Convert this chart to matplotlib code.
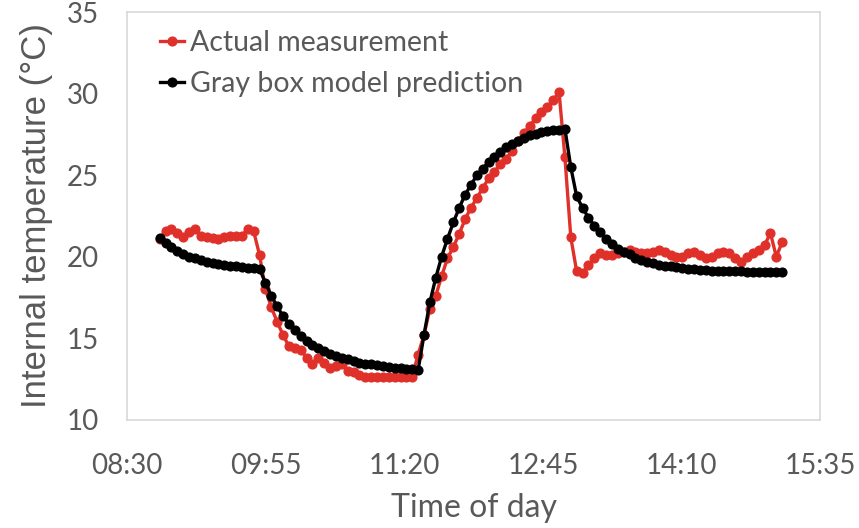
import matplotlib
matplotlib.use("Agg")
import matplotlib.pyplot as plt
import numpy as np
from matplotlib.ticker import FuncFormatter, MultipleLocator

# sampling: first reading at 08:50, one reading every 3.6 min
start_min = 8 * 60 + 50
step_min = 3.6

actual = [
    21.1, 21.6, 21.7, 21.45, 21.2, 21.5, 21.7, 21.3, 21.2, 21.15, 21.1, 21.2,
    21.25, 21.3, 21.3, 21.7, 21.55,
    20.1, 18.0, 16.9, 16.0, 15.2, 14.5, 14.4, 14.3, 13.8, 13.4, 13.8, 13.5,
    13.2, 13.3, 13.4, 13.0, 12.9, 12.75, 12.65, 12.65, 12.65, 12.65, 12.65,
    12.65, 12.65, 12.65, 12.65,
    14.0, 15.2, 16.8, 17.6, 18.8, 19.9, 20.6, 21.4, 22.3, 23.0, 23.6, 24.2,
    24.8, 25.2, 25.7, 26.0, 26.5, 27.1, 27.6, 28.0, 28.5, 28.9, 29.2, 29.6, 30.1,
    26.1, 21.2, 19.1, 19.0, 19.5, 19.9, 20.2, 20.1, 20.1, 20.2, 20.3, 20.4,
    20.3, 20.2, 20.2, 20.3, 20.4, 20.3, 20.1, 20.0, 20.0, 20.2, 20.3, 20.1,
    19.9, 20.0, 20.2, 20.3, 20.2, 19.9, 19.7, 20.0, 20.2, 20.4, 20.7, 21.45,
    20.0, 20.9,
]

model = [
    21.15, 20.85, 20.6, 20.35, 20.15, 20.0, 19.9, 19.8, 19.7, 19.62, 19.55,
    19.5, 19.45, 19.4, 19.36, 19.32, 19.28, 19.25,
    18.4, 17.6, 16.95, 16.35, 15.9, 15.5, 15.15, 14.85, 14.6, 14.4, 14.2,
    14.05, 13.9, 13.8, 13.7, 13.6, 13.5, 13.45, 13.4, 13.35, 13.3, 13.25,
    13.2, 13.15, 13.12, 13.1, 13.05,
    15.2, 17.2, 18.7, 20.0, 21.1, 22.1, 23.0, 23.8, 24.4, 25.0, 25.4, 25.8,
    26.1, 26.4, 26.7, 26.9, 27.1, 27.3, 27.45, 27.55, 27.65, 27.7, 27.75,
    27.8, 27.85,
    25.5, 23.7, 23.0, 22.4, 21.9, 21.5, 21.1, 20.8, 20.5, 20.3, 20.15, 19.95,
    19.8, 19.7, 19.6, 19.5, 19.45, 19.4, 19.35, 19.3, 19.25, 19.22, 19.2,
    19.17, 19.15, 19.13, 19.12, 19.11, 19.1, 19.1, 19.09, 19.08, 19.08,
    19.07, 19.07, 19.07, 19.07,
]

times = start_min + step_min * np.arange(len(actual))

RED = "#e0302a"
GRAY = "#595959"
FONT = "Lato"


def hhmm(v, pos):
    v = int(round(v))
    return f"{v // 60:02d}:{v % 60:02d}"


fig = plt.figure(figsize=(8.59, 5.28), dpi=100)
ax = fig.add_axes([0.148, 0.205, 0.807, 0.772])

ax.plot(times, actual, color=RED, lw=2.4, marker="o", ms=6.3,
        label="Actual measurement", zorder=2)
ax.plot(times, model, color="black", lw=2.4, marker="o", ms=6.3,
        label="Gray box model prediction", zorder=3)

ax.set_xlim(8 * 60 + 30, 15 * 60 + 35)
ax.set_ylim(10, 35)
ax.xaxis.set_major_locator(MultipleLocator(85))
ax.xaxis.set_major_formatter(FuncFormatter(hhmm))
ax.yaxis.set_major_locator(MultipleLocator(5))

for side in ax.spines.values():
    side.set_color("#d9d9d9")
    side.set_linewidth(1.2)

ax.tick_params(length=0, labelsize=20, labelcolor=GRAY)
ax.tick_params(axis="x", pad=24)
ax.tick_params(axis="y", pad=20)
for lab in ax.get_xticklabels() + ax.get_yticklabels():
    lab.set_family(FONT)

ax.set_xlabel("Time of day", fontsize=23, color=GRAY, family=FONT, labelpad=10)
ax.set_ylabel("Internal temperature (\u00b0C)", fontsize=25, color=GRAY,
              family="Liberation Sans", labelpad=10)

leg = ax.legend(loc="upper left", bbox_to_anchor=(0.01, 1.02), frameon=False,
                handlelength=0.85, handletextpad=0.2, labelspacing=0.55,
                prop={"family": FONT, "size": 20.5})
for t in leg.get_texts():
    t.set_color(GRAY)

fig.savefig("out.png", dpi=100)
